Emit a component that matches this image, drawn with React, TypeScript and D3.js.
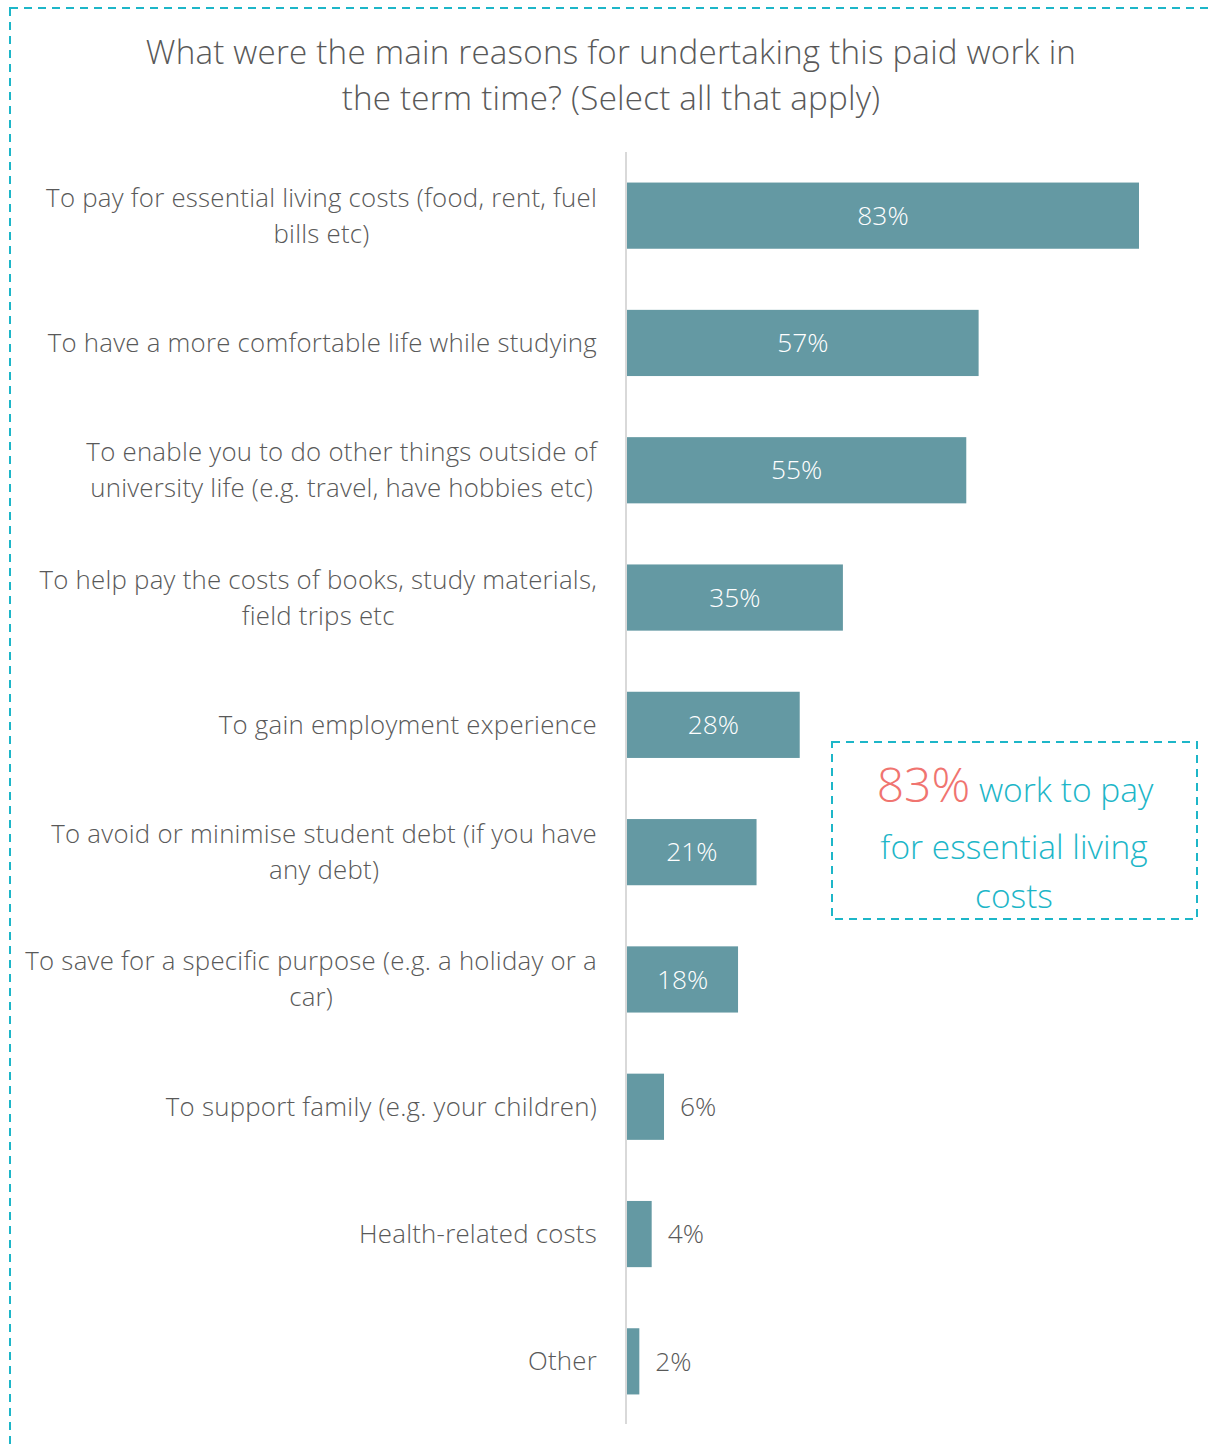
import React from "react";
import * as d3 from "d3";

const categories = [
  "To pay for essential living costs (food, rent, fuel\nbills etc)",
  "To have a more comfortable life while studying",
  "To enable you to do other things outside of\nuniversity life (e.g. travel, have hobbies etc)",
  "To help pay the costs of books, study materials,\nfield trips etc",
  "To gain employment experience",
  "To avoid or minimise student debt (if you have\nany debt)",
  "To save for a specific purpose (e.g. a holiday or a\ncar)",
  "To support family (e.g. your children)",
  "Health-related costs",
  "Other",
];
const values = [83, 57, 55, 35, 28, 21, 18, 6, 4, 2];
const titleLines = [
  "What were the main reasons for undertaking this paid work in",
  "the term time? (Select all that apply)",
];

const FONT = "'Open Sans', Lato, sans-serif";
const TEAL = "#1DB6C8";
const BAR = "#6499A3";
const GREY = "#595959";
const LABEL_SIZE = 25.8;
const LS = 0.25;
const WEIGHT = 300;

let ctx: CanvasRenderingContext2D | null = null;
function measure(t: string, size: number) {
  if (!ctx) ctx = document.createElement("canvas").getContext("2d");
  if (!ctx) return t.length * size * 0.5;
  ctx.font = `${WEIGHT} ${size}px ${FONT}`;
  return ctx.measureText(t).width + LS * t.length;
}

export default function App() {
  const W = 1208, H = 1447;
  const x0 = 627;
  const x = d3.scaleLinear().domain([0, 83]).range([x0, 1139]);
  const y = d3.scaleBand<number>().domain(d3.range(categories.length)).range([152, 1425]).paddingInner(0.48).paddingOuter(0.24);
  return (
    <svg width={W} height={H} style={{ position: "absolute", left: 0, top: 0 }} fontFamily={FONT} fontWeight={WEIGHT}>
      <rect x={10} y={8} width={1400} height={1600} fill="none" stroke={TEAL} strokeWidth={2} strokeDasharray="8,6" />
      {titleLines.map((t, i) => (
        <text key={i} x={611} y={52 + i * 46} dy="0.35em" textAnchor="middle" fontSize={33.2} letterSpacing={0.2} fill={GREY}>{t}</text>
      ))}
      <line x1={626} x2={626} y1={152} y2={1424} stroke="#d9d9d9" strokeWidth={2} />
      {values.map((v, i) => {
        const yy = y(i)!;
        const bh = y.bandwidth();
        const cy = yy + bh / 2;
        const inside = v >= 10;
        const lines = categories[i].split("\n");
        const maxW = Math.max(...lines.map((l) => measure(l, LABEL_SIZE)));
        const cx = 597 - maxW / 2;
        return (
          <g key={i}>
            <rect x={x0} y={yy} width={x(v) - x0} height={bh} fill={BAR} />
            <text x={inside ? (x0 + x(v)) / 2 : x(v) + 16} y={cy} dy="0.35em" textAnchor={inside ? "middle" : "start"} fontSize={26.3} fill={inside ? "#fff" : GREY}>{v}%</text>
            {lines.map((l, j) => (
              <text key={j} x={lines.length > 1 ? cx : 597} y={cy + (j - (lines.length - 1) / 2) * 36} dy="0.35em" textAnchor={lines.length > 1 ? "middle" : "end"} fontSize={LABEL_SIZE} letterSpacing={LS} fill={GREY}>{l}</text>
            ))}
          </g>
        );
      })}
      <rect x={832} y={742} width={365} height={177} fill="none" stroke={TEAL} strokeWidth={2} strokeDasharray="8,6" />
      <text x={1015} y={790} dy="0.35em" textAnchor="middle" fill={TEAL} fontSize={33.5}>
        <tspan fill="#F07470" fontSize={48}>83%</tspan> work to pay
      </text>
      <text x={1014} y={847} dy="0.35em" textAnchor="middle" fill={TEAL} fontSize={33.5}>for essential living</text>
      <text x={1014} y={896} dy="0.35em" textAnchor="middle" fill={TEAL} fontSize={33.5}>costs</text>
    </svg>
  );
}
